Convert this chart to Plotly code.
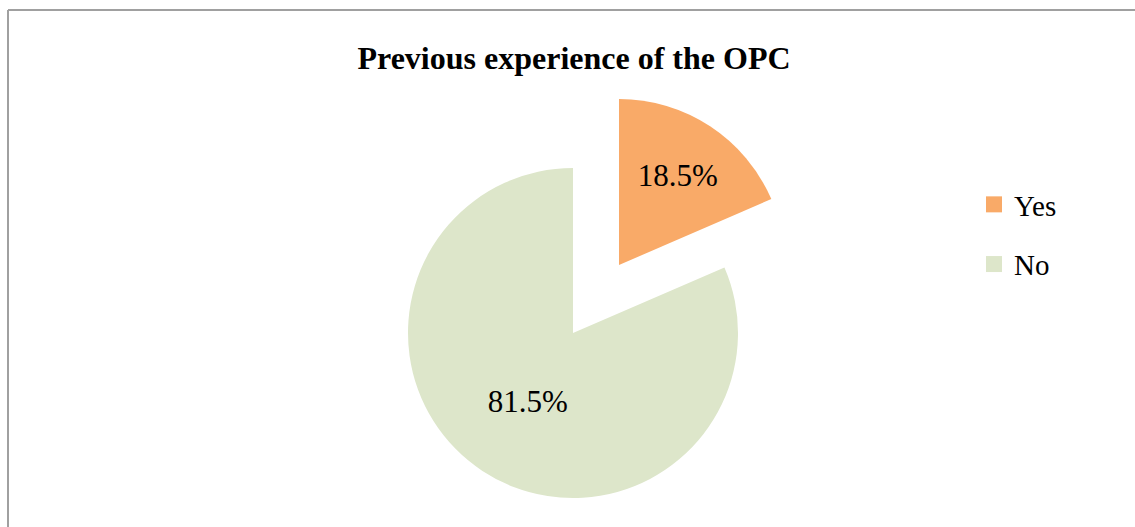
import plotly.graph_objects as go

# data
labels = ["Yes", "No"]
values = [18.5, 81.5]
colors = ["#F9AA68", "#DDE6CA"]
title_text = "Previous experience of the OPC"

W, H = 1135, 527
FONT = "Liberation Serif, Times New Roman, serif"


def px_dom(cx, cy, r):
    # pixel centre/radius -> paper domain
    return dict(x=[(cx - r) / W, (cx + r) / W],
                y=[1 - (cy + r) / H, 1 - (cy - r) / H])


clear = "rgba(0,0,0,0)"

fig = go.Figure()

# the big "No" slice, "Yes" left empty
fig.add_trace(go.Pie(
    labels=labels, values=values, sort=False, direction="clockwise", rotation=0,
    marker=dict(colors=[clear, colors[1]], line=dict(width=0)),
    texttemplate=["", "%{value:.1f}%"], textposition="inside",
    insidetextorientation="horizontal",
    insidetextfont=dict(family=FONT, size=31, color="black"),
    domain=px_dom(573, 333, 165), showlegend=False, hoverinfo="skip",
))

# the exploded "Yes" slice
fig.add_trace(go.Pie(
    labels=labels, values=values, sort=False, direction="clockwise", rotation=0,
    marker=dict(colors=[colors[0], clear], line=dict(width=0)),
    texttemplate=["%{value:.1f}%", ""], textposition="inside",
    insidetextorientation="horizontal",
    insidetextfont=dict(family=FONT, size=31, color="black"),
    domain=px_dom(619, 265, 166), showlegend=False, hoverinfo="skip",
))

# legend entries
for lab, col in zip(labels, colors):
    fig.add_trace(go.Scatter(
        x=[None], y=[None], mode="markers", name=lab, legendgroup=lab,
        marker=dict(symbol="square", size=16, color=col),
    ))

fig.update_layout(
    width=W, height=H,
    margin=dict(l=0, r=0, t=0, b=0),
    paper_bgcolor="white", plot_bgcolor="white",
    xaxis=dict(visible=False), yaxis=dict(visible=False),
    title=dict(text="<b>" + title_text + "</b>", x=574 / W, xanchor="center",
               y=1 - 58 / H, yanchor="middle",
               font=dict(family=FONT, size=32, color="black")),
    legend=dict(x=974 / W, xanchor="left", y=1 - 179 / H, yanchor="top",
                font=dict(family=FONT, size=29, color="black"),
                tracegroupgap=19, bgcolor=clear),
    shapes=[
        dict(type="line", xref="paper", yref="paper", x0=8 / W, x1=8 / W,
             y0=0, y1=1 - 10 / H, line=dict(color="#A0A0A0", width=2)),
        dict(type="line", xref="paper", yref="paper", x0=8 / W, x1=1,
             y0=1 - 10 / H, y1=1 - 10 / H, line=dict(color="#A0A0A0", width=2)),
    ],
)

fig.write_html("out.html", config={"displayModeBar": False},
               post_script="document.body.style.margin='0';")
